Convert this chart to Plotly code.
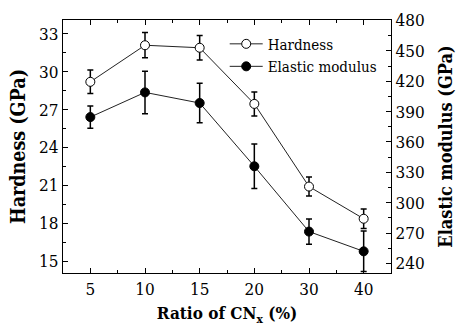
import plotly.graph_objects as go

categories = ["5", "10", "15", "20", "30", "40"]
hardness = [29.2, 32.1, 31.9, 27.45, 20.9, 18.35]
hardness_err = [0.93, 1.0, 0.97, 0.95, 0.75, 0.77]
modulus = [384.6, 409.0, 398.5, 336.0, 271.5, 252.0]
modulus_err = [11, 21, 19.5, 22, 12.5, 20]

left_ticks = [15, 18, 21, 24, 27, 30, 33]
right_ticks = [240, 270, 300, 330, 360, 390, 420, 450, 480]

idx = list(range(len(categories)))
FONT = "'DejaVu Serif Condensed', 'DejaVu Serif'"

fig = go.Figure()
fig.add_trace(go.Scatter(
    x=idx, y=hardness, name="Hardness", mode="lines+markers",
    line=dict(color="#222", width=1),
    marker=dict(symbol="circle", size=9, color="white", line=dict(color="black", width=1)),
    error_y=dict(type="data", array=hardness_err, color="black", thickness=1.5, width=3),
    yaxis="y"))
fig.add_trace(go.Scatter(
    x=idx, y=modulus, name="Elastic modulus", mode="lines+markers",
    line=dict(color="#222", width=1),
    marker=dict(symbol="circle", size=9, color="black", line=dict(color="black", width=1)),
    error_y=dict(type="data", array=modulus_err, color="black", thickness=1.5, width=3),
    yaxis="y2"))

axis_common = dict(showline=True, linecolor="black", linewidth=1.3, ticks="inside",
                   tickcolor="black", ticklen=5, tickwidth=1, showgrid=False, zeroline=False,
                   automargin=False,
                   tickfont=dict(family=FONT, size=17, color="black"))

fig.update_layout(
    width=457, height=326,
    margin=dict(l=63, r=66, t=19.5, b=53.3),
    plot_bgcolor="white", paper_bgcolor="white",
    font=dict(family=FONT, color="black"),
    showlegend=True,
    legend=dict(x=0.493, y=0.97, xanchor="left", yanchor="top",
                bgcolor="rgba(0,0,0,0)", font=dict(family=FONT, size=15, color="black"),
                tracegroupgap=0, itemwidth=33),
    xaxis=dict(**axis_common, range=[-0.5, 5.5], tickmode="array", tickvals=idx, ticktext=categories,
               mirror="ticks",
               minor=dict(ticks="inside", tickvals=[i + 0.5 for i in range(-1, 6)], ticklen=3,
                          tickcolor="black", tickwidth=1),
               title=dict(text="Ratio of CN<sub>x</sub> (%)", standoff=19,
                          font=dict(family=FONT, size=17, color="black", weight="bold"))),
    yaxis=dict(**axis_common, range=[14.05, 34.1], tickmode="array", tickvals=left_ticks,
               minor=dict(ticks="inside", dtick=1.5, tick0=15, ticklen=3, tickcolor="black", tickwidth=1),
               title=dict(text="Hardness (GPa)", standoff=8,
                          font=dict(family=FONT, size=19.5, color="black", weight="bold"))),
    yaxis2=dict(**axis_common, range=[230.6, 480.5], tickmode="array", tickvals=right_ticks,
                overlaying="y", side="right",
                minor=dict(ticks="inside", dtick=15, tick0=240, ticklen=3, tickcolor="black", tickwidth=1),
                title=dict(text="Elastic modulus (GPa)", standoff=15,
                           font=dict(family=FONT, size=18, color="black", weight="bold"))),
)

fig.write_html("out.html")
